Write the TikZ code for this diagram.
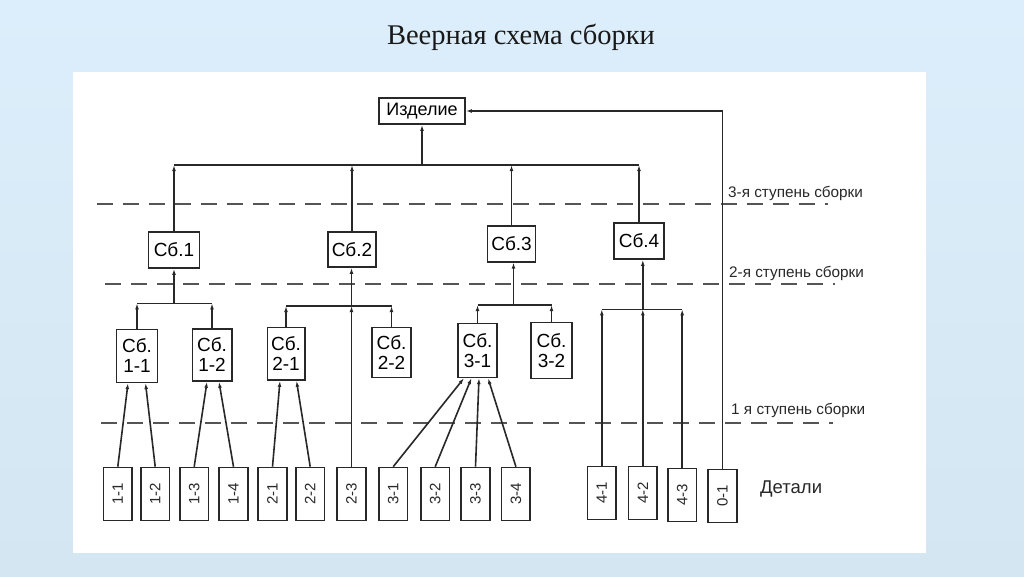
\documentclass[tikz,border=0pt]{standalone}
\usepackage{fontspec}
\setmainfont{Liberation Sans}
\newfontfamily\titlefont{Liberation Serif}
\usetikzlibrary{arrows.meta}
\definecolor{bgtop}{RGB}{220,238,251}
\definecolor{bgbot}{RGB}{212,230,241}
\definecolor{ink}{RGB}{40,40,40}
\definecolor{dash}{RGB}{85,85,85}
\begin{document}
\begin{tikzpicture}[x=1pt,y=-1pt,
  box/.style={draw=ink,line width=1.6pt,fill=white,inner sep=0pt,align=center},
  sbbox/.style={box,font=\fontsize{19}{20}\selectfont},
  detbox/.style={box,minimum width=28.5pt,minimum height=53pt},
  dettext/.style={rotate=90,font=\fontsize{15}{15}\selectfont,inner sep=0pt,text=ink},
  conn/.style={draw=ink,line width=1.6pt},
  arr/.style={conn,-{Latex[length=6pt,width=3.8pt]}},
  level/.style={draw=dash,line width=2pt,dash pattern=on 16pt off 10pt},
  lbl/.style={font=\fontsize{15.3}{16}\selectfont,text=ink,anchor=west,inner sep=0pt}]
% background
\useasboundingbox (0,0) rectangle (1024,576);
\shade[top color=bgtop,bottom color=bgbot] (0,0) rectangle (1024,576);
\fill[white] (72.7,71.7) rectangle (925.7,552.7);
% title
\node[font=\titlefont\fontsize{28.5}{29}\selectfont,text=black!90] (title) at (521,37) {Веерная схема сборки};
% level lines
\draw[level] (96.7,204.3) -- (828,204.3);
\draw[level] (105,284.3) -- (835,284.3);
\draw[level] (101,422.7) -- (833,422.7);
\node[lbl] (l3) at (728,193) {3-я ступень сборки};
\node[lbl] (l2) at (729,273) {2-я ступень сборки};
\node[lbl] (l1) at (731,410.7) {1 я ступень сборки};
\node[font=\fontsize{18.5}{19}\selectfont,text=ink,anchor=west,inner sep=0pt] (det) at (760,489) {Детали};
% product
\node[box,minimum width=86pt,minimum height=26pt,font=\fontsize{18}{18}\selectfont] (izd) at (422,111) {Изделие};
% 3rd level assemblies
\node[sbbox,minimum width=51pt,minimum height=36pt] (sb1) at (174,250) {Сб.1};
\node[sbbox,minimum width=48pt,minimum height=35pt] (sb2) at (352,249.5) {Сб.2};
\node[sbbox,minimum width=48pt,minimum height=36pt] (sb3) at (511.5,243.7) {Сб.3};
\node[sbbox,minimum width=50pt,minimum height=36pt] (sb4) at (639,241) {Сб.4};
% 2nd level sub-assemblies
\node[sbbox,minimum width=41pt,minimum height=53pt] (sb11) at (137,355.8) {Сб.\\1-1};
\node[sbbox,minimum width=39.4pt,minimum height=52pt] (sb12) at (212,355) {Сб.\\1-2};
\node[sbbox,minimum width=37.4pt,minimum height=52.7pt] (sb21) at (286,353.7) {Сб.\\2-1};
\node[sbbox,minimum width=39pt,minimum height=50pt] (sb22) at (391.5,352.3) {Сб.\\2-2};
\node[sbbox,minimum width=39pt,minimum height=54pt] (sb31) at (477.5,350.3) {Сб.\\3-1};
\node[sbbox,minimum width=41pt,minimum height=56pt] (sb32) at (551.5,350.3) {Сб.\\3-2};
% details
\foreach \n/\t/\x/\y in {d11/1-1/117.8/494, d12/1-2/155.2/494, d13/1-3/194.2/494, d14/1-4/233.5/494,
  d21/2-1/272.5/494, d22/2-2/310.2/494, d23/2-3/351.5/494, d31/3-1/393.2/494, d32/3-2/435.2/494,
  d33/3-3/475.5/494, d34/3-4/515.9/494, d41/4-1/601.8/493, d42/4-2/642.8/493, d43/4-3/682.2/494.8,
  d01/0-1/722.5/495.8}
  {\node[detbox] (\n) at (\x,\y) {};
   \node[dettext] (\n t) at (\n.center) {\t};}
% 3rd-level bus
\coordinate (b3) at (422,165);
\draw[conn] (sb1.north |- b3) -- (sb4.north |- b3);
\draw[arr] (b3) -- (izd.south);
\foreach \s in {sb1,sb2,sb3,sb4} \draw[arr] (\s.north) -- (\s.north |- b3);
% loop from 0-1 to product
\draw[arr] (d01.north) |- (izd.east);
% Sb.1 group
\coordinate (b21) at (174,303.3);
\draw[conn] (sb11.north |- b21) -- (sb12.north |- b21);
\draw[arr] (b21) -- (sb1.south);
\draw[arr] (sb11.north) -- (sb11.north |- b21);
\draw[arr] (sb12.north) -- (sb12.north |- b21);
% Sb.2 group
\coordinate (b22) at (351.5,306);
\draw[conn] (sb21.north |- b22) -- (sb22.north |- b22);
\draw[arr] (b22) -- (b22 |- sb2.south);
\draw[arr] (sb21.north) -- (sb21.north |- b22);
\draw[arr] (sb22.north) -- (sb22.north |- b22);
\draw[arr] (d23.north) -- (b22);
% Sb.3 group
\coordinate (b23) at (513.5,305);
\draw[conn] (sb31.north |- b23) -- (sb32.north |- b23);
\draw[arr] (b23) -- (b23 |- sb3.south);
\draw[arr] (sb31.north) -- (sb31.north |- b23);
\draw[arr] (sb32.north) -- (sb32.north |- b23);
% Sb.4 group
\coordinate (b24) at (642.8,309.3);
\draw[conn] (d41.north |- b24) -- (d43.north |- b24);
\draw[arr] (b24) -- (b24 |- sb4.south);
\foreach \d in {d41,d42,d43} \draw[arr] (\d.north) -- (\d.north |- b24);
% details to sub-assemblies
\draw[arr] (d11.north) -- ([xshift=-9pt]sb11.south);
\draw[arr] (d12.north) -- ([xshift=8.5pt]sb11.south);
\draw[arr] (d13.north) -- ([xshift=-5pt]sb12.south);
\draw[arr] (d14.north) -- ([xshift=7pt]sb12.south);
\draw[arr] (d21.north) -- ([xshift=-6pt]sb21.south);
\draw[arr] (d22.north) -- ([xshift=10.5pt]sb21.south);
\draw[arr] (d31.north) -- ([xshift=-13.5pt]sb31.south);
\draw[arr] (d32.north) -- ([xshift=-6pt]sb31.south);
\draw[arr] (d33.north) -- ([xshift=1.5pt]sb31.south);
\draw[arr] (d34.north) -- ([xshift=10.5pt]sb31.south);
\end{tikzpicture}
\end{document}
